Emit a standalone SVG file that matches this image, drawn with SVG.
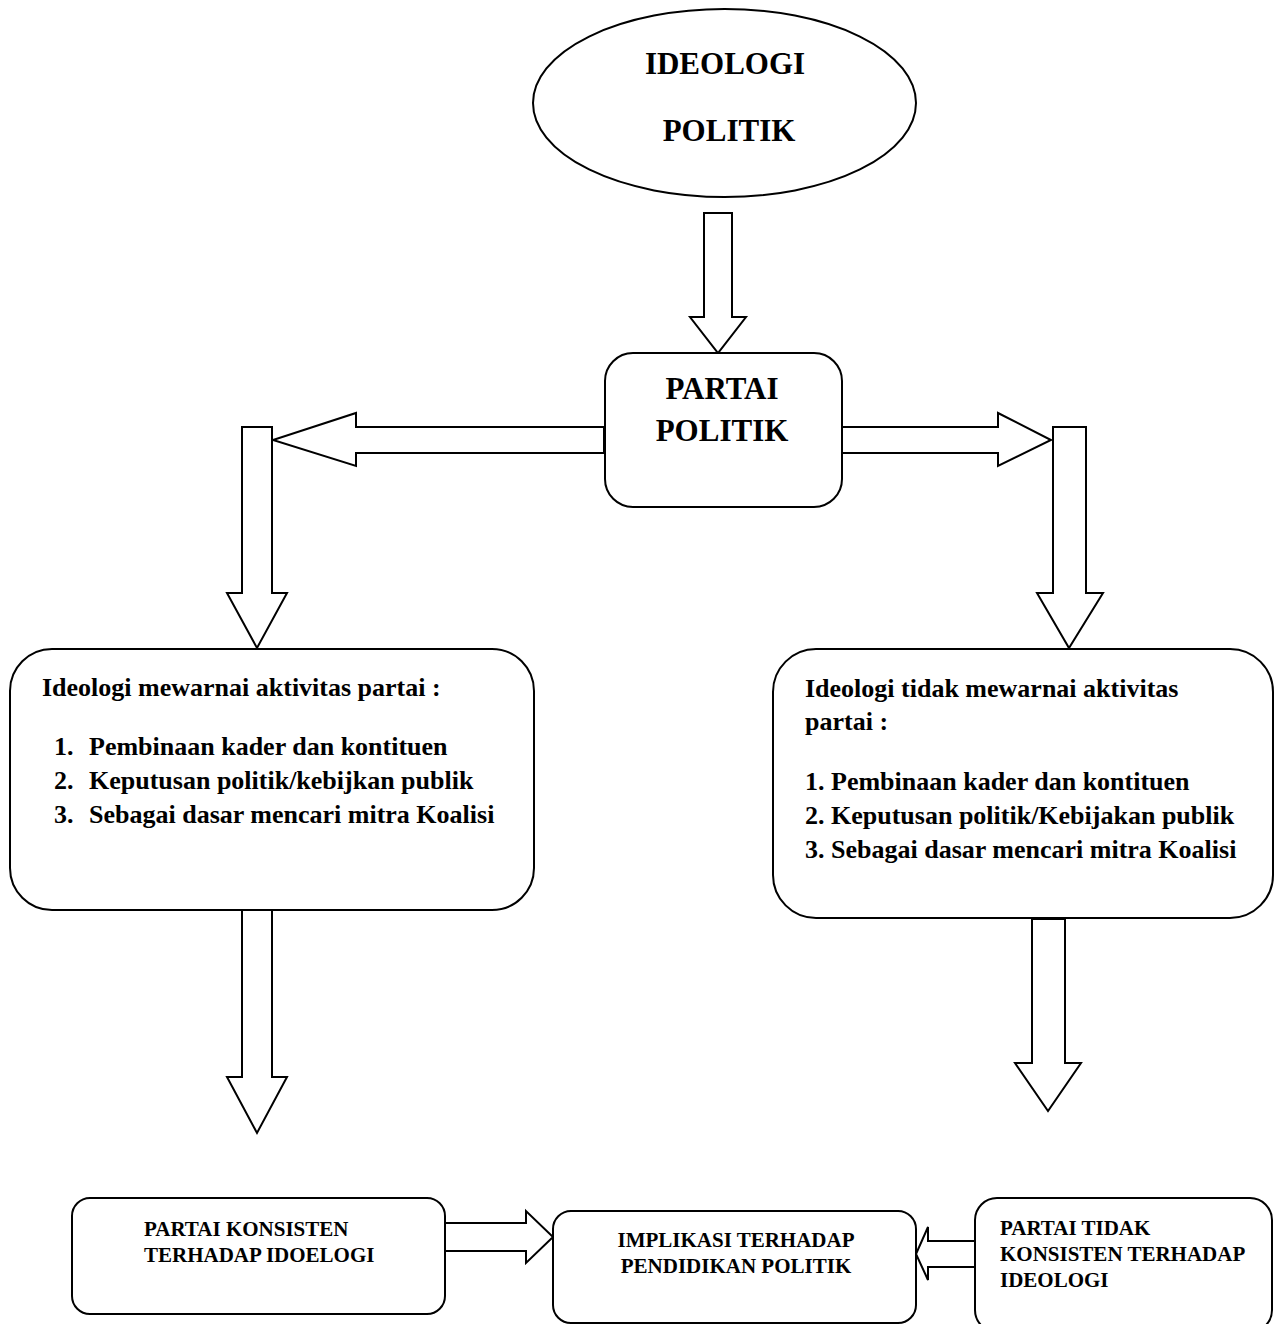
<svg xmlns="http://www.w3.org/2000/svg" width="1279" height="1324" viewBox="0 0 1279 1324">
<style>
.shape{fill:#fff;stroke:#000;stroke-width:2}
.arrow{fill:#fff;stroke:#000;stroke-width:2;stroke-linejoin:miter}
text{font-family:"Liberation Serif","Times New Roman",serif;font-weight:bold;fill:#000}
.big{font-size:31px}
.mid{font-size:26px}
.small{font-size:21px}
</style>
<rect x="0" y="0" width="1279" height="1324" fill="#fff"/>
<g id="connectors">
<polygon class="arrow" points="704,213 732,213 732,317 746,317 718,353 690,317 704,317"/>
<polygon class="arrow" points="604,427 356,427 356,413 273,440 356,466 356,453 604,453"/>
<polygon class="arrow" points="842,427 998,427 998,413 1051,440 998,466 998,453 842,453"/>
<polygon class="arrow" points="242,427 272,427 272,593 287,593 257,648 227,593 242,593"/>
<polygon class="arrow" points="1053,427 1086,427 1086,593 1103,593 1069,648 1037,593 1053,593"/>
<polygon class="arrow" points="242,910 272,910 272,1077 287,1077 257,1133 227,1077 242,1077"/>
<polygon class="arrow" points="1032,919 1065,919 1065,1063 1081,1063 1048,1111 1015,1063 1032,1063"/>
<polygon class="arrow" points="445,1223 526,1223 526,1211 553,1237 526,1263 526,1251 445,1251"/>
<polygon class="arrow" points="975,1241 928,1241 928,1227 916,1254 928,1280 928,1267 975,1267"/>
</g>
<g id="ideologi-politik">
<ellipse class="shape" cx="724.5" cy="103" rx="191.5" ry="94"/>
<text class="big" x="725" y="74" text-anchor="middle">IDEOLOGI</text>
<text class="big" x="729" y="141" text-anchor="middle">POLITIK</text>
</g>
<g id="partai-politik">
<rect class="shape" x="605" y="353" width="237" height="154" rx="28" ry="28"/>
<text class="big" x="722" y="399" text-anchor="middle">PARTAI</text>
<text class="big" x="722" y="441" text-anchor="middle">POLITIK</text>
</g>
<g id="mewarnai">
<rect class="shape" x="10" y="649" width="524" height="261" rx="42" ry="42"/>
<text class="mid" x="42" y="696">Ideologi mewarnai aktivitas partai :</text>
<text class="mid" x="54" y="755">1.</text>
<text class="mid" x="89" y="755">Pembinaan kader dan kontituen</text>
<text class="mid" x="54" y="789">2.</text>
<text class="mid" x="89" y="789">Keputusan politik/kebijkan publik</text>
<text class="mid" x="54" y="823">3.</text>
<text class="mid" x="89" y="823">Sebagai dasar mencari mitra Koalisi</text>
</g>
<g id="tidak-mewarnai">
<rect class="shape" x="773" y="649" width="500" height="269" rx="43" ry="43"/>
<text class="mid" x="805" y="697">Ideologi tidak mewarnai aktivitas</text>
<text class="mid" x="805" y="730">partai :</text>
<text class="mid" x="805" y="790">1.</text>
<text class="mid" x="831" y="790">Pembinaan kader dan kontituen</text>
<text class="mid" x="805" y="824">2.</text>
<text class="mid" x="831" y="824">Keputusan politik/Kebijakan publik</text>
<text class="mid" x="805" y="858">3.</text>
<text class="mid" x="831" y="858">Sebagai dasar mencari mitra Koalisi</text>
</g>
<g id="partai-konsisten">
<rect class="shape" x="72" y="1198" width="373" height="116" rx="18" ry="18"/>
<text class="small" x="144" y="1236">PARTAI KONSISTEN</text>
<text class="small" x="144" y="1262">TERHADAP IDOELOGI</text>
</g>
<g id="implikasi">
<rect class="shape" x="553" y="1211" width="363" height="112" rx="18" ry="18"/>
<text class="small" x="736" y="1247" text-anchor="middle">IMPLIKASI TERHADAP</text>
<text class="small" x="736" y="1273" text-anchor="middle">PENDIDIKAN POLITIK</text>
</g>
<g id="partai-tidak-konsisten">
<rect class="shape" x="975" y="1198" width="297" height="134" rx="22" ry="22"/>
<text class="small" x="1000" y="1235">PARTAI TIDAK</text>
<text class="small" x="1000" y="1261">KONSISTEN TERHADAP</text>
<text class="small" x="1000" y="1287">IDEOLOGI</text>
</g>
</svg>
